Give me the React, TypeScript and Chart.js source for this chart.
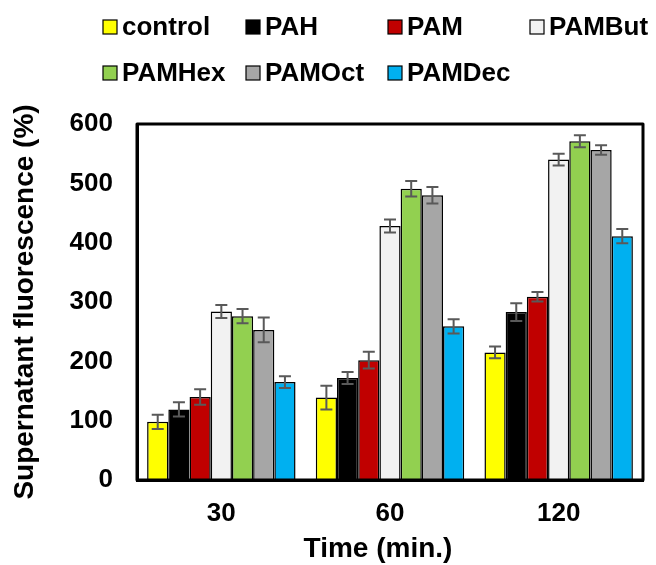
import React, { useEffect, useRef } from "react";
import { Chart, registerables } from "chart.js";

Chart.register(...registerables);

const categories = ["30", "60", "120"];
const seriesNames = ["control", "PAH", "PAM", "PAMBut", "PAMHex", "PAMOct", "PAMDec"];
const seriesColors = ["#FFFF00", "#000000", "#C00000", "#F2F2F2", "#92D050", "#A6A6A6", "#00B0F0"];
const controlValues = [98, 139, 215];
const pahValues = [119, 172, 283];
const pamValues = [140, 202, 309];
const pamButValues = [284, 428, 540];
const pamHexValues = [276, 491, 571];
const pamOctValues = [253, 480, 556];
const pamDecValues = [165, 259, 411];
const controlErr = [12, 20, 10];
const pahErr = [12, 10, 15];
const pamErr = [13, 14, 8];
const pamButErr = [11, 11, 10];
const pamHexErr = [12, 13, 10];
const pamOctErr = [21, 14, 8];
const pamDecErr = [10, 12, 12];
const yTicks = [0, 100, 200, 300, 400, 500, 600];

const allValues = [controlValues, pahValues, pamValues, pamButValues, pamHexValues, pamOctValues, pamDecValues];
const allErrors = [controlErr, pahErr, pamErr, pamButErr, pamHexErr, pamOctErr, pamDecErr];

const FONT = "'Liberation Sans', Arial, sans-serif";

const errorBarPlugin = {
  id: "errorBars",
  afterDatasetsDraw(chart: any) {
    const ctx = chart.ctx;
    const yScale = chart.scales.y;
    ctx.save();
    ctx.strokeStyle = "#595959";
    ctx.lineWidth = 2;
    chart.data.datasets.forEach((ds: any, i: number) => {
      const meta = chart.getDatasetMeta(i);
      meta.data.forEach((el: any, j: number) => {
        const v = ds.data[j];
        const e = ds.errors[j];
        const x = el.x;
        const yt = yScale.getPixelForValue(v + e);
        const yb = yScale.getPixelForValue(v - e);
        const cap = 6;
        ctx.beginPath();
        ctx.moveTo(x, yt);
        ctx.lineTo(x, yb);
        ctx.moveTo(x - cap, yt);
        ctx.lineTo(x + cap, yt);
        ctx.moveTo(x - cap, yb);
        ctx.lineTo(x + cap, yb);
        ctx.stroke();
      });
    });
    ctx.restore();
  },
};

const framePlugin = {
  id: "frame",
  afterDraw(chart: any) {
    const ctx = chart.ctx;
    const a = chart.chartArea;
    ctx.save();
    ctx.strokeStyle = "#000";
    ctx.lineWidth = 3;
    ctx.lineJoin = "round";
    ctx.strokeRect(a.left, a.top, a.right - a.left, a.bottom - a.top);
    // x-axis title
    ctx.fillStyle = "#000";
    ctx.font = `bold 28px ${FONT}`;
    ctx.textAlign = "center";
    ctx.textBaseline = "alphabetic";
    ctx.fillText("Time (min.)", (a.left + a.right) / 2 - 12, 557);
    ctx.restore();
  },
};

const legendCols = [103, 246, 388, 530];
const legendRows = [27, 73];

const legendPlugin = {
  id: "customLegend",
  afterDraw(chart: any) {
    const ctx = chart.ctx;
    ctx.save();
    ctx.font = `bold 26px ${FONT}`;
    ctx.textBaseline = "middle";
    ctx.textAlign = "left";
    chart.data.datasets.forEach((ds: any, i: number) => {
      const row = i < 4 ? 0 : 1;
      const col = i < 4 ? i : i - 4;
      const x = legendCols[col];
      const y = legendRows[row];
      const s = 14;
      ctx.fillStyle = ds.backgroundColor;
      ctx.fillRect(x, y - s / 2, s, s);
      ctx.strokeStyle = "#000";
      ctx.lineWidth = 1.2;
      ctx.strokeRect(x, y - s / 2, s, s);
      ctx.fillStyle = "#000";
      ctx.fillText(ds.label, x + s + 5, y + 1);
    });
    ctx.restore();
  },
};

export default function App() {
  const ref = useRef<HTMLCanvasElement | null>(null);
  useEffect(() => {
    if (!ref.current) return;
    const chart = new Chart(ref.current, {
      type: "bar",
      data: {
        labels: categories,
        datasets: seriesNames.map((name, i) => ({
          label: name,
          data: allValues[i],
          errors: allErrors[i],
          backgroundColor: seriesColors[i],
          borderColor: "#000",
          borderWidth: 1.5,
          barPercentage: 1,
          categoryPercentage: 0.88,
        })) as any,
      },
      options: {
        animation: false,
        responsive: false,
        maintainAspectRatio: false,
        layout: { padding: { top: 124, right: 13, left: 0, bottom: 0 } },
        plugins: {
          legend: { display: false },
          tooltip: { enabled: false },
          title: { display: false },
        },
        scales: {
          x: {
            grid: { display: false, drawTicks: false },
            border: { display: true, color: "#000", width: 3 },
            ticks: {
              color: "#000",
              font: { family: FONT, size: 26, weight: "bold" },
              padding: 18,
            },
            afterFit(scale: any) {
              scale.height = 85;
            },
          },
          y: {
            min: 0,
            max: 600,
            afterBuildTicks(scale: any) {
              scale.ticks = yTicks.map((v) => ({ value: v }));
            },
            grid: { display: false, drawTicks: false },
            border: { display: true, color: "#000", width: 3 },
            ticks: {
              color: "#000",
              font: { family: FONT, size: 26, weight: "bold" },
              padding: 24,
            },
            title: {
              display: true,
              text: "Supernatant fluorescence (%)",
              color: "#000",
              font: { family: FONT, size: 28, weight: "bold" },
              padding: { top: 8, bottom: 0 },
            },
            afterFit(scale: any) {
              scale.width = 137;
            },
          },
        },
      } as any,
      plugins: [errorBarPlugin, framePlugin, legendPlugin],
    });
    return () => chart.destroy();
  }, []);
  return (
    <div style={{ position: "fixed", left: 0, top: 0, width: 656, height: 565, background: "#fff" }}>
      <canvas ref={ref} width={656} height={565} style={{ width: 656, height: 565 }} />
    </div>
  );
}
